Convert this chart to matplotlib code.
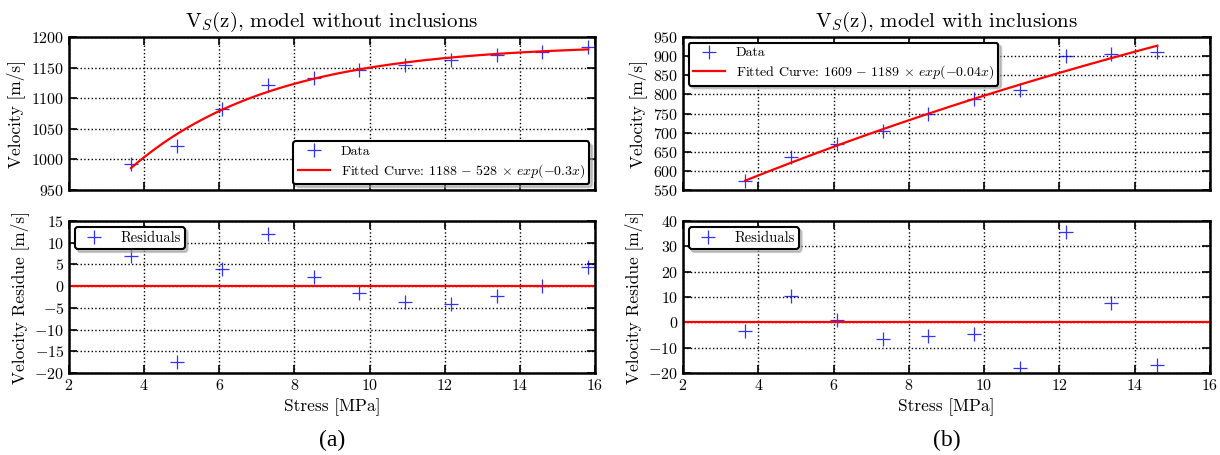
import numpy as np
import matplotlib
matplotlib.use('Agg')
from matplotlib import pyplot as plt
from matplotlib.ticker import MultipleLocator

plt.rcParams['font.family'] = 'serif'
plt.rcParams['font.serif'] = ['cmr10']
plt.rcParams['mathtext.fontset'] = 'cm'
plt.rcParams['axes.formatter.use_mathtext'] = True
plt.rcParams['axes.unicode_minus'] = True

# stress points [MPa]
stress = [3.65, 4.87, 6.08, 7.30, 8.52, 9.73, 10.95, 12.17, 13.38, 14.60, 15.82]

# model without inclusions
vel_a = [992, 1022, 1083, 1121, 1133, 1146, 1155, 1162, 1170, 1176, 1184]
res_a = [7.0, -17.5, 4.0, 12.0, 2.0, -1.5, -3.7, -4.0, -2.2, 0.0, 4.5]
fit_a = (1188, 528, 0.263)
label_a = r'Fitted Curve: $1188\,-\,528\,\times\,exp(-0.3x)$'

# model with inclusions
vel_b = [573, 635, 670, 705, 748, 788, 812, 900, 905, 912]
res_b = [-3.5, 10.5, 1.0, -6.5, -5.3, -4.5, -18.0, 35.5, 7.5, -17.0]
fit_b = (1609, 1189, 0.0381)
label_b = r'Fitted Curve: $1609\,-\,1189\,\times\,exp(-0.04x)$'


def style_axes(ax):
    ax.grid(True, color='black', linestyle=':', linewidth=1.0)
    ax.tick_params(direction='in', top=True, right=True, length=6, width=1.2, labelsize=11.5)
    for sp in ax.spines.values():
        sp.set_linewidth(1.8)
    ax.set_xlim(2, 16)


def add_legend(ax, loc, hl, fs):
    leg = ax.legend(loc=loc, numpoints=1, fontsize=fs, fancybox=True,
                    shadow={'color': '0.6', 'alpha': 0.5}, framealpha=1,
                    borderpad=0.3, labelspacing=0.3, handlelength=hl,
                    handletextpad=0.8, borderaxespad=0.4)
    leg.get_frame().set_edgecolor('black')
    leg.get_frame().set_linewidth(1.5)


def panel(x0, x1, vel, res, fit, label, title, ylim_top, step_top, ylim_bot, step_bot, top_loc, caption):
    w = x1 - x0
    ax1 = fig.add_axes([x0, 1 - 190 / 455, w, 153 / 455])
    ax2 = fig.add_axes([x0, 1 - 373 / 455, w, 152 / 455])

    x = np.array(stress[:len(vel)])
    xs = np.linspace(x[0], x[-1], 200)
    a, b, c = fit
    ax1.plot(x, vel, '+', color='blue', markersize=10, markeredgewidth=0.9, alpha=0.8, label='Data')
    ax1.plot(xs, a - b * np.exp(-c * xs), color='red', linewidth=1.6, label=label)
    style_axes(ax1)
    ax1.set_ylim(*ylim_top)
    ax1.yaxis.set_major_locator(MultipleLocator(step_top))
    ax1.set_xticks(range(2, 17, 2))
    ax1.set_xticklabels([])
    ax1.set_ylabel('Velocity [m/s]', fontsize=12.5)
    ax1.set_title(title, fontsize=15, pad=7)
    add_legend(ax1, top_loc, 2.3, 10)

    ax2.plot(x, res, '+', color='blue', markersize=10, markeredgewidth=0.9, alpha=0.8, label='Residuals')
    ax2.axhline(0, color='red', linewidth=1.6)
    style_axes(ax2)
    ax2.set_ylim(*ylim_bot)
    ax2.yaxis.set_major_locator(MultipleLocator(step_bot))
    ax2.set_xticks(range(2, 17, 2))
    ax2.set_xlabel('Stress [MPa]', fontsize=12.5)
    ax2.set_ylabel('Velocity Residue [m/s]', fontsize=12.5)
    add_legend(ax2, 'upper left', 2.0, 10.5)

    fig.text(x0 + w / 2, 1 - 440 / 455, caption, ha='center', va='center',
             fontsize=17, family='Liberation Serif')


fig = plt.figure(figsize=(12.2, 4.55), dpi=100)
panel(69 / 1220, 595 / 1220, vel_a, res_a, fit_a, label_a,
      r'V$_S$(z), model without inclusions', (950, 1200), 50, (-20, 15), 5, 'lower right', '(a)')
panel(683 / 1220, 1210 / 1220, vel_b, res_b, fit_b, label_b,
      r'V$_S$(z), model with inclusions', (550, 950), 50, (-20, 40), 10, 'upper left', '(b)')

fig.savefig('out.png', dpi=100)
